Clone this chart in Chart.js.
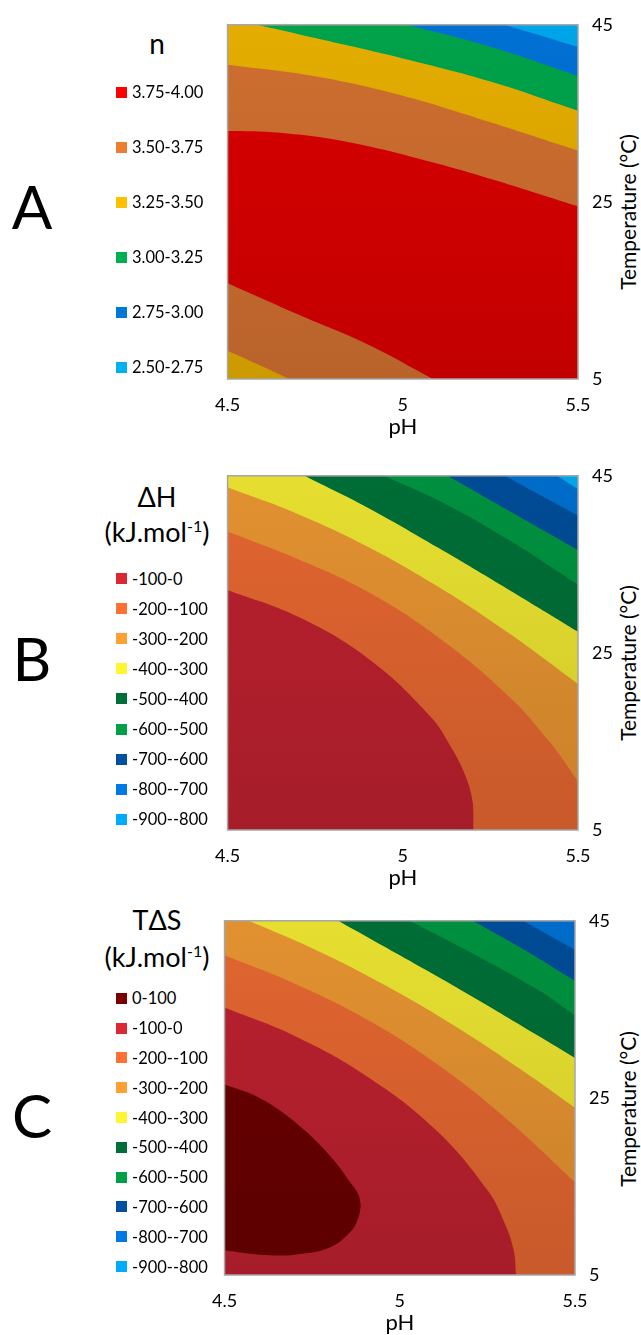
<!DOCTYPE html>
<html lang="en">
<head>
<meta charset="UTF-8" />
<title>n, ΔH y TΔS - superficies de contorno</title>
<script src="https://cdn.jsdelivr.net/npm/chart.js"></script>
<style>
  body {
    margin: 0;
    width: 641px;
    height: 1335px;
    overflow: hidden;
    position: relative;
    background: #fff;
    color: #000;
    font-family: Lato, "Open Sans", sans-serif;
  }
  canvas { position: absolute; }
  .letter {
    position: absolute;
    left: 0;
    width: 64px;
    text-align: center;
    font-size: 60px;
    line-height: 60px;
  }
  .ltitle {
    position: absolute;
    left: 97px;
    width: 120px;
    text-align: center;
    font-size: 27px;
    line-height: 30px;
    white-space: nowrap;
  }
  .ltitle sup { font-size: 16px; vertical-align: 10px; line-height: 0; }
  .item {
    position: absolute;
    height: 20px;
    line-height: 20px;
    font-size: 16.5px;
    display: flex;
    align-items: center;
    white-space: nowrap;
  }
  .swatch { width: 11px; height: 11px; margin-right: 5px; }
  .ytitle {
    position: absolute;
    left: 627px;
    font-size: 21px;
    white-space: nowrap;
    transform: translate(-50%, -50%) rotate(-90deg);
  }
</style>
</head>
<body>
  <div class="letter" style="top:176px">A</div>
  <div class="letter" style="top:628px">B</div>
  <div class="letter" style="top:1085px">C</div>

  <div class="ltitle" style="top:28px; font-size:28px">n</div>
  <div class="ltitle" style="top:482px">ΔH</div>
  <div class="ltitle" style="top:517px">(kJ.mol<sup>-1</sup>)</div>
  <div class="ltitle" style="top:905px">TΔS</div>
  <div class="ltitle" style="top:942px">(kJ.mol<sup>-1</sup>)</div>

  <div class="ytitle" style="top:212px">Temperature (°C)</div>
  <div class="ytitle" style="top:663px">Temperature (°C)</div>
  <div class="ytitle" style="top:1109px">Temperature (°C)</div>

  <canvas id="chartA" width="441" height="445" style="left:200px; top:0px"></canvas>
  <canvas id="chartB" width="441" height="445" style="left:200px; top:451px"></canvas>
  <canvas id="chartC" width="441" height="445" style="left:197px; top:896px"></canvas>

<script>
  // Ejes comunes
  const pHTicks = [4.5, 5, 5.5];
  const tempTicks = [5, 25, 45];

  // --- A: n ---
  const nLabels = ["3.75-4.00", "3.50-3.75", "3.25-3.50", "3.00-3.25", "2.75-3.00", "2.50-2.75"];
  // líneas de contorno: [pH, temperatura]
  const n375Upper = [[4.5, 33.0], [4.65, 32.8], [4.85, 31.7], [5.1, 29.3], [5.3, 27.0], [5.5, 24.5]];
  const n350Upper = [[4.5, 40.5], [4.75, 39.2], [5.0, 37.0], [5.25, 34.0], [5.5, 30.8]];
  const n325 = [[4.584, 45], [4.75, 43.5], [5.0, 41.2], [5.25, 38.6], [5.5, 35.3]];
  const n300 = [[5.012, 45], [5.26, 42.4], [5.5, 39.2]];
  const n275 = [[5.29, 45], [5.5, 42.5]];
  const n375Lower = [[4.5, 15.8], [4.7, 12.3], [4.9, 8.9], [5.086, 5]];
  const n350Lower = [[4.5, 8.2], [4.584, 6.7], [4.677, 5]];

  // --- B: ΔH ---
  const dHLabels = ["-100-0", "-200--100", "-300--200", "-400--300", "-500--400", "-600--500", "-700--600", "-800--700", "-900--800"];
  const dH100 = [[4.5, 32.1], [4.7, 29.1], [4.9, 24.4], [5.077, 17.9], [5.14, 14.2], [5.182, 10.8], [5.2, 8.0], [5.202, 5]];
  const dH200 = [[4.5, 38.7], [4.7, 35.6], [4.9, 31.9], [5.1, 26.8], [5.3, 20.2], [5.42, 14.9], [5.5, 10.5]];
  const dH300 = [[4.5, 43.7], [4.7, 40.7], [4.9, 37.0], [5.1, 32.5], [5.3, 27.3], [5.5, 21.5]];
  const dH400 = [[4.719, 45], [4.9, 41.4], [5.1, 36.9], [5.3, 32.2], [5.5, 27.4]];
  const dH500 = [[4.947, 45], [5.123, 41.8], [5.309, 37.6], [5.5, 32.7]];
  const dH600 = [[5.128, 45], [5.309, 40.9], [5.5, 36.6]];
  const dH700 = [[5.291, 45], [5.402, 42.6], [5.5, 40.5]];
  const dH800 = [[5.44, 45], [5.5, 43.5]];

  // --- C: TΔS ---
  const tdSLabels = ["0-100", "-100-0", "-200--100", "-300--200", "-400--300", "-500--400", "-600--500", "-700--600", "-800--700", "-900--800"];
  const tdS0Upper = [[4.5, 26.5], [4.6, 25.0], [4.7, 22.3], [4.8, 18.5], [4.86, 15.4], [4.882, 14.1], [4.889, 12.8]];
  const tdS0Lower = [[4.5, 7.8], [4.6, 7.3], [4.7, 7.3], [4.8, 8.1], [4.86, 9.9], [4.882, 11.5], [4.889, 12.8]];
  const tdS100 = [[4.5, 35.2], [4.7, 32.0], [4.9, 27.6], [5.1, 21.5], [5.25, 14.6], [5.3, 10.8], [5.325, 7.8], [5.332, 5]];
  const tdS200 = [[4.5, 41.1], [4.7, 37.9], [4.9, 34.0], [5.1, 29.0], [5.3, 22.8], [5.5, 15.5]];
  const tdS300 = [[4.569, 45], [4.75, 41.9], [4.95, 37.9], [5.15, 33.3], [5.35, 28.1], [5.5, 23.9]];
  const tdS400 = [[4.824, 45], [5.0, 41.1], [5.2, 36.6], [5.4, 31.9], [5.5, 29.5]];
  const tdS500 = [[5.028, 45], [5.208, 41.3], [5.394, 37.2], [5.5, 34.3]];
  const tdS600 = [[5.208, 45], [5.356, 41.7], [5.5, 38.2]];
  const tdS700 = [[5.352, 45], [5.5, 41.7]];

  // Colores de la superficie y de la leyenda
  const nPlotColors = ["#d10000", "#c76a2e", "#dba600", "#009c47", "#006ccb", "#009fe0"];
  const nLegendColors = ["#ff0000", "#ed7d31", "#ffc000", "#00b050", "#0078d7", "#00b0f0"];
  const dHPlotColors = ["#b21f2c", "#d8612e", "#d98b2e", "#ddd62e", "#006934", "#008a3d", "#00488f", "#0068c1", "#00a0e0"];
  const dHLegendColors = ["#dc2832", "#ff7033", "#ffa033", "#fff533", "#006e37", "#00a04b", "#0050a0", "#0078e6", "#00aaff"];
  const tdSPlotColors = ["#640000"].concat(dHPlotColors);
  const tdSLegendColors = ["#7a0000"].concat(dHLegendColors);

  // Leyendas en HTML
  function legend(labels, colors, firstY, gap) {
    labels.forEach((label, i) => {
      const item = document.createElement("div");
      item.className = "item";
      item.style.left = "116px";
      item.style.top = (firstY + i * gap - 10) + "px";
      item.innerHTML = '<span class="swatch" style="background:' + colors[i] + '"></span>' + label;
      document.body.appendChild(item);
    });
  }
  legend(nLabels, nLegendColors, 92, 55);
  legend(dHLabels, dHLegendColors, 578.5, 30.1);
  legend(tdSLabels, tdSLegendColors, 998.3, 29.8);

  // Sombreado vertical como en la superficie original
  function shade(hex, f) {
    const n = parseInt(hex.slice(1), 16);
    const c = [(n >> 16) & 255, (n >> 8) & 255, n & 255].map(v => Math.min(255, Math.round(v * f)));
    return "rgb(" + c.join(",") + ")";
  }
  function surface(chart, color) {
    const a = chart.chartArea;
    if (!a) return color;
    const g = chart.ctx.createLinearGradient(0, a.top, 0, a.bottom);
    g.addColorStop(0, shade(color, 1.04));
    g.addColorStop(1, shade(color, 0.93));
    return g;
  }

  // Fondo y marco del área del gráfico
  const plotFrame = {
    id: "plotFrame",
    beforeDraw(chart, args, opts) {
      const { ctx, chartArea: a } = chart;
      ctx.save();
      ctx.fillStyle = surface(chart, opts.base);
      ctx.fillRect(a.left, a.top, a.width, a.height);
      ctx.restore();
    },
    afterDatasetsDraw(chart) {
      const { ctx, chartArea: a } = chart;
      ctx.save();
      ctx.strokeStyle = "#a6a6a6";
      ctx.lineWidth = 1.5;
      ctx.strokeRect(a.left, a.top, a.width, a.height);
      ctx.restore();
    }
  };

  const tickFont = { family: "Lato", size: 18 };

  function drawPanel(canvasId, base, layers) {
    const datasets = layers.map((layer, i) => ({
      data: layer.line.map(([x, y]) => ({ x: x, y: y })),
      fill: layer.fill,
      backgroundColor: layer.color ? (c) => surface(c.chart, layer.color) : "transparent",
      borderColor: "transparent",
      borderWidth: 0,
      pointRadius: 0,
      tension: 0.4,
      order: layers.length - i
    }));

    new Chart(document.getElementById(canvasId), {
      type: "line",
      data: { datasets: datasets },
      plugins: [plotFrame],
      options: {
        responsive: false,
        animation: false,
        events: [],
        layout: { padding: { left: 20, top: 19, right: 0, bottom: 0 } },
        plugins: {
          legend: { display: false },
          tooltip: { enabled: false },
          plotFrame: { base: base }
        },
        scales: {
          x: {
            type: "linear",
            min: 4.5,
            max: 5.5,
            afterBuildTicks: (s) => { s.ticks = pHTicks.map(v => ({ value: v })); },
            afterFit: (s) => { s.height = 66; },
            grid: { display: false, drawTicks: false },
            border: { display: false },
            ticks: { color: "#000", font: tickFont, padding: 15, maxRotation: 0, autoSkip: false, callback: (v) => String(v) },
            title: { display: true, text: "pH", color: "#000", font: { family: "Lato", size: 22 }, padding: { top: 0, bottom: 5 } }
          },
          y: {
            type: "linear",
            position: "right",
            min: 5,
            max: 45,
            afterBuildTicks: (s) => { s.ticks = tempTicks.map(v => ({ value: v })); },
            afterFit: (s) => { s.width = 63; },
            grid: { display: false, drawTicks: false },
            border: { display: false },
            ticks: { color: "#000", font: tickFont, padding: 14, autoSkip: false, callback: (v) => String(v) }
          }
        }
      }
    });
  }

  // capas de abajo hacia arriba
  drawPanel("chartA", nPlotColors[0], [
    { line: n375Upper, fill: "end", color: nPlotColors[1] },
    { line: n350Upper, fill: "end", color: nPlotColors[2] },
    { line: n325, fill: "end", color: nPlotColors[3] },
    { line: n300, fill: "end", color: nPlotColors[4] },
    { line: n275, fill: "end", color: nPlotColors[5] },
    { line: n375Lower, fill: "start", color: nPlotColors[1] },
    { line: n350Lower, fill: "start", color: nPlotColors[2] }
  ]);

  drawPanel("chartB", dHPlotColors[1], [
    { line: dH100, fill: "start", color: dHPlotColors[0] },
    { line: dH200, fill: "end", color: dHPlotColors[2] },
    { line: dH300, fill: "end", color: dHPlotColors[3] },
    { line: dH400, fill: "end", color: dHPlotColors[4] },
    { line: dH500, fill: "end", color: dHPlotColors[5] },
    { line: dH600, fill: "end", color: dHPlotColors[6] },
    { line: dH700, fill: "end", color: dHPlotColors[7] },
    { line: dH800, fill: "end", color: dHPlotColors[8] }
  ]);

  drawPanel("chartC", tdSPlotColors[2], [
    { line: tdS100, fill: "start", color: tdSPlotColors[1] },
    { line: tdS0Upper, fill: 2, color: tdSPlotColors[0] },
    { line: tdS0Lower, fill: false, color: null },
    { line: tdS200, fill: "end", color: tdSPlotColors[3] },
    { line: tdS300, fill: "end", color: tdSPlotColors[4] },
    { line: tdS400, fill: "end", color: tdSPlotColors[5] },
    { line: tdS500, fill: "end", color: tdSPlotColors[6] },
    { line: tdS600, fill: "end", color: tdSPlotColors[7] },
    { line: tdS700, fill: "end", color: tdSPlotColors[8] }
  ]);
</script>
</body>
</html>
